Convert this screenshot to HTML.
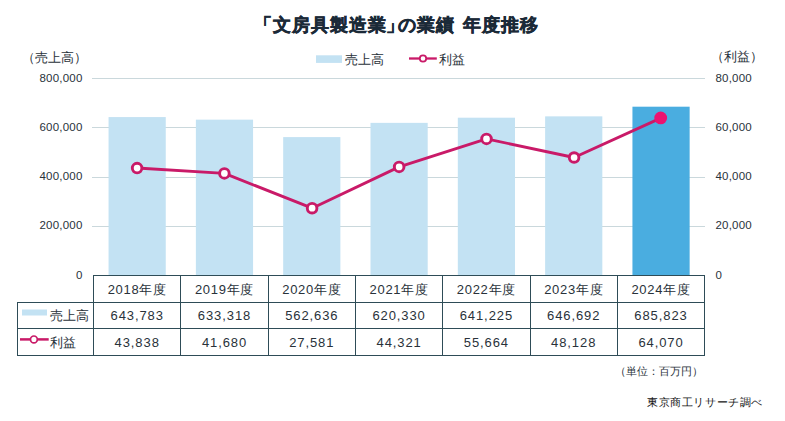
<!DOCTYPE html>
<html lang="ja">
<head>
<meta charset="utf-8">
<style>
html,body{margin:0;padding:0;background:#fff;}
body{width:785px;height:421px;position:relative;overflow:hidden;font-family:"Liberation Sans",sans-serif;color:#29323a;}
svg{position:absolute;left:0;top:0;}
.t{position:absolute;white-space:nowrap;line-height:1;}
.ti{position:absolute;white-space:nowrap;line-height:1;font-size:18px;font-weight:bold;color:#1b2a38;top:15.5px;letter-spacing:1.05px;-webkit-text-stroke:0.5px #1b2a38;}
.ax{font-size:11.5px;letter-spacing:0.2px;}
.c{position:absolute;width:87px;text-align:center;white-space:nowrap;line-height:1;font-size:13px;}
.h{top:283px;letter-spacing:0.7px;}
.v1{top:309px;letter-spacing:0.9px;}
.v2{top:336px;letter-spacing:0.9px;}
</style>
</head>
<body>
<svg width="785" height="421" viewBox="0 0 785 421">
<g stroke="#cad8dc" stroke-width="1"><line x1="92" y1="78.5" x2="705" y2="78.5"/><line x1="92" y1="127.5" x2="705" y2="127.5"/><line x1="92" y1="177.5" x2="705" y2="177.5"/><line x1="92" y1="226.5" x2="705" y2="226.5"/></g>
<g><rect x="108.56" y="117.07" width="57.2" height="158.93" fill="#c3e2f3"/><rect x="195.87" y="119.65" width="57.2" height="156.35" fill="#c3e2f3"/><rect x="283.18" y="137.10" width="57.2" height="138.90" fill="#c3e2f3"/><rect x="370.50" y="122.86" width="57.2" height="153.14" fill="#c3e2f3"/><rect x="457.81" y="117.70" width="57.2" height="158.30" fill="#c3e2f3"/><rect x="545.13" y="116.35" width="57.2" height="159.65" fill="#c3e2f3"/><rect x="632.44" y="106.69" width="57.2" height="169.31" fill="#4aade0"/></g>
<g stroke="#2e4c57" stroke-width="1" fill="none"><line x1="93" y1="275.5" x2="705" y2="275.5"/><line x1="17" y1="302.5" x2="705" y2="302.5"/><line x1="17" y1="328.5" x2="705" y2="328.5"/><line x1="17" y1="355.5" x2="705" y2="355.5"/><line x1="17.5" y1="302" x2="17.5" y2="356"/><line x1="93.5" y1="275" x2="93.5" y2="356"/><line x1="180.5" y1="275" x2="180.5" y2="356"/><line x1="268.5" y1="275" x2="268.5" y2="356"/><line x1="355.5" y1="275" x2="355.5" y2="356"/><line x1="442.5" y1="275" x2="442.5" y2="356"/><line x1="530.5" y1="275" x2="530.5" y2="356"/><line x1="617.5" y1="275" x2="617.5" y2="356"/><line x1="704.5" y1="275" x2="704.5" y2="356"/></g>
<polyline fill="none" stroke="#c91a68" stroke-width="2.9" stroke-linejoin="round" points="137.10,168.07 224.40,173.40 312.10,208.21 399.15,166.88 486.50,138.88 574.10,157.48 660.70,118.13"/>
<g fill="#fff" stroke="#c91a68" stroke-width="2.9"><circle cx="137.10" cy="168.07" r="4.8"/><circle cx="224.40" cy="173.40" r="4.8"/><circle cx="312.10" cy="208.21" r="4.8"/><circle cx="399.15" cy="166.88" r="4.8"/><circle cx="486.50" cy="138.88" r="4.8"/><circle cx="574.10" cy="157.48" r="4.8"/></g>
<circle cx="660.70" cy="117.93" r="6.4" fill="#ec1270"/>
<rect x="316" y="55.3" width="26" height="7.6" fill="#c3e2f3"/>
<line x1="409" y1="58.5" x2="436.8" y2="58.5" stroke="#c91a68" stroke-width="2.3"/>
<circle cx="423" cy="58.5" r="3.2" fill="#fff" stroke="#c91a68" stroke-width="1.8"/>
<rect x="22" y="309.5" width="25" height="6" fill="#c3e2f3"/>
<line x1="20" y1="339.4" x2="48.7" y2="339.4" stroke="#c91a68" stroke-width="2.5"/>
<circle cx="33.9" cy="339.4" r="3.4" fill="#fff" stroke="#c91a68" stroke-width="1.7"/>
</svg>
<div class="ti" id="tA" style="left:254px;">「</div>
<div class="ti" id="tB" style="left:273px;">文房具製造業</div>
<div class="ti" id="tC" style="left:386px;">」</div>
<div class="ti" id="tD" style="left:397.5px;">の業績</div>
<div class="ti" id="tE" style="left:462.5px;">年度推移</div>
<div class="t" style="left:345px;top:52.5px;font-size:13px;">売上高</div>
<div class="t" style="left:439px;top:52.5px;font-size:13px;">利益</div>
<div class="t" style="left:21.5px;top:51px;font-size:13px;">（</div><div class="t" style="left:35px;top:51px;font-size:13px;">売上高</div><div class="t" style="left:73.5px;top:51px;font-size:13px;">）</div>
<div class="t" style="left:710.5px;top:49.5px;font-size:13px;">（</div><div class="t" style="left:723.5px;top:49.5px;font-size:13px;">利益</div><div class="t" style="left:749.5px;top:49.5px;font-size:13px;">）</div>
<div class="t ax" style="right:702.5px;top:72.5px;">800,000</div><div class="t ax" style="left:715.5px;top:72.5px;">80,000</div><div class="t ax" style="right:702.5px;top:121.8px;">600,000</div><div class="t ax" style="left:715.5px;top:121.8px;">60,000</div><div class="t ax" style="right:702.5px;top:171.1px;">400,000</div><div class="t ax" style="left:715.5px;top:171.1px;">40,000</div><div class="t ax" style="right:702.5px;top:220.4px;">200,000</div><div class="t ax" style="left:715.5px;top:220.4px;">20,000</div><div class="t ax" style="right:702.5px;top:269.7px;">0</div><div class="t ax" style="left:715.5px;top:269.7px;">0</div>
<div class="t" style="left:50px;top:309px;font-size:13px;">売上高</div>
<div class="t" style="left:50px;top:336px;font-size:13px;">利益</div>
<div class="c h" style="left:93.7px;">2018年度</div><div class="c v1" style="left:93.7px;">643,783</div><div class="c v2" style="left:93.7px;">43,838</div><div class="c h" style="left:181.0px;">2019年度</div><div class="c v1" style="left:181.0px;">633,318</div><div class="c v2" style="left:181.0px;">41,680</div><div class="c h" style="left:268.3px;">2020年度</div><div class="c v1" style="left:268.3px;">562,636</div><div class="c v2" style="left:268.3px;">27,581</div><div class="c h" style="left:355.6px;">2021年度</div><div class="c v1" style="left:355.6px;">620,330</div><div class="c v2" style="left:355.6px;">44,321</div><div class="c h" style="left:442.9px;">2022年度</div><div class="c v1" style="left:442.9px;">641,225</div><div class="c v2" style="left:442.9px;">55,664</div><div class="c h" style="left:530.2px;">2023年度</div><div class="c v1" style="left:530.2px;">646,692</div><div class="c v2" style="left:530.2px;">48,128</div><div class="c h" style="left:617.5px;">2024年度</div><div class="c v1" style="left:617.5px;">685,823</div><div class="c v2" style="left:617.5px;">64,070</div>
<div class="t" style="left:615px;top:366px;font-size:11px;">（単位：百万円）</div>
<div class="t" style="left:647px;top:396.5px;font-size:11px;letter-spacing:0.6px;color:#141414;">東京商工リサーチ調べ</div>
</body>
</html>
